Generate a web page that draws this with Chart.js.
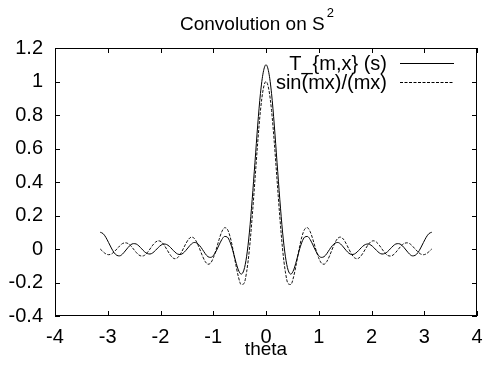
<!DOCTYPE html>
<html>
<head>
<meta charset="utf-8">
<script src="https://cdn.jsdelivr.net/npm/chart.js@4.4.1/dist/chart.umd.min.js"></script>
<style>
  html, body { margin: 0; padding: 0; background: #fff; }
  canvas { display: block; }
</style>
</head>
<body>
<canvas id="plot" width="485" height="366"></canvas>
<script>
// theta (radians), -pi .. pi
const theta = [
  -3.142, -3.089, -3.037, -2.985, -2.932, -2.880, -2.827, -2.775, -2.723, -2.670,
  -2.618, -2.566, -2.513, -2.461, -2.409, -2.356, -2.304, -2.251, -2.199, -2.147,
  -2.094, -2.042, -1.990, -1.937, -1.885, -1.833, -1.780, -1.728, -1.676, -1.623,
  -1.571, -1.518, -1.466, -1.414, -1.361, -1.309, -1.257, -1.204, -1.152, -1.100,
  -1.047, -0.995, -0.942, -0.890, -0.838, -0.785, -0.733, -0.681, -0.628, -0.576,
  -0.524, -0.471, -0.419, -0.367, -0.314, -0.262, -0.209, -0.157, -0.105, -0.052,
  0,
  0.052, 0.105, 0.157, 0.209, 0.262, 0.314, 0.367, 0.419, 0.471, 0.524,
  0.576, 0.628, 0.681, 0.733, 0.785, 0.838, 0.890, 0.942, 0.995, 1.047,
  1.100, 1.152, 1.204, 1.257, 1.309, 1.361, 1.414, 1.466, 1.518, 1.571,
  1.623, 1.676, 1.728, 1.780, 1.833, 1.885, 1.937, 1.990, 2.042, 2.094,
  2.147, 2.199, 2.251, 2.304, 2.356, 2.409, 2.461, 2.513, 2.566, 2.618,
  2.670, 2.723, 2.775, 2.827, 2.880, 2.932, 2.985, 3.037, 3.089, 3.142
];

// T_{m,x}(s)  (solid)
const tKernel = [
  0.100, 0.092, 0.070, 0.039, 0.006, -0.022, -0.038, -0.041, -0.031, -0.012,
  0.008, 0.025, 0.032, 0.030, 0.018, 0.001, -0.016, -0.027, -0.030, -0.023,
  -0.008, 0.009, 0.023, 0.030, 0.027, 0.016, -0.001, -0.018, -0.030, -0.033,
  -0.025, -0.008, 0.012, 0.030, 0.039, 0.035, 0.020, -0.003, -0.028, -0.046,
  -0.050, -0.038, -0.011, 0.024, 0.056, 0.075, 0.071, 0.041, -0.011, -0.072,
  -0.125, -0.150, -0.126, -0.043, 0.101, 0.295, 0.518, 0.740, 0.929, 1.055,
  1.100,
  1.055, 0.929, 0.740, 0.518, 0.295, 0.101, -0.043, -0.126, -0.150, -0.125,
  -0.072, -0.011, 0.041, 0.071, 0.075, 0.056, 0.024, -0.011, -0.038, -0.050,
  -0.046, -0.028, -0.003, 0.020, 0.035, 0.039, 0.030, 0.012, -0.008, -0.025,
  -0.033, -0.030, -0.018, -0.001, 0.016, 0.027, 0.030, 0.023, 0.009, -0.008,
  -0.023, -0.030, -0.027, -0.016, 0.001, 0.018, 0.030, 0.032, 0.025, 0.008,
  -0.012, -0.031, -0.041, -0.038, -0.022, 0.006, 0.039, 0.070, 0.092, 0.100
];

// sin(mx)/(mx)  (dashed)
const sinc = [
  0, -0.016, -0.029, -0.034, -0.030, -0.017, 0, 0.018, 0.032, 0.037,
  0.033, 0.020, 0, -0.020, -0.036, -0.042, -0.038, -0.022, 0, 0.023,
  0.041, 0.049, 0.044, 0.026, 0, -0.027, -0.049, -0.058, -0.052, -0.031,
  0, 0.033, 0.059, 0.071, 0.064, 0.038, 0, -0.042, -0.075, -0.091,
  -0.083, -0.050, 0, 0.056, 0.103, 0.127, 0.118, 0.074, 0, -0.087,
  -0.165, -0.212, -0.207, -0.136, 0, 0.191, 0.414, 0.637, 0.827, 0.955,
  1,
  0.955, 0.827, 0.637, 0.414, 0.191, 0, -0.136, -0.207, -0.212, -0.165,
  -0.087, 0, 0.074, 0.118, 0.127, 0.103, 0.056, 0, -0.050, -0.083,
  -0.091, -0.075, -0.042, 0, 0.038, 0.064, 0.071, 0.059, 0.033, 0,
  -0.031, -0.052, -0.058, -0.049, -0.027, 0, 0.026, 0.044, 0.049, 0.041,
  0.023, 0, -0.022, -0.038, -0.042, -0.036, -0.020, 0, 0.020, 0.033,
  0.037, 0.032, 0.018, 0, -0.017, -0.030, -0.034, -0.029, -0.016, 0
];

const seriesNames = ['T_{m,x} (s)', 'sin(mx)/(mx)'];
const xTicks = [-4, -3, -2, -1, 0, 1, 2, 3, 4];
const xTickLabels = ['-4', '-3', '-2', '-1', '0', '1', '2', '3', '4'];
const yTicks = [-0.4, -0.2, 0, 0.2, 0.4, 0.6, 0.8, 1, 1.2];
const yTickLabels = ['-0.4', '-0.2', '0', '0.2', '0.4', '0.6', '0.8', '1', '1.2'];

const FONT = 'Liberation Sans, Arial, Helvetica, sans-serif';
const DASH = [3, 1.5];

// frame + inward ticks (gnuplot style, mirrored on all sides)
const framePlugin = {
  id: 'frame',
  afterDatasetsDraw(chart) {
    const {ctx, chartArea: a, scales} = chart;
    ctx.save();
    ctx.strokeStyle = '#000';
    ctx.lineWidth = 1;
    ctx.strokeRect(a.left + 0.5, a.top + 0.5, a.right - a.left - 1, a.bottom - a.top - 1);
    ctx.beginPath();
    xTicks.forEach(v => {
      const px = Math.round(scales.x.getPixelForValue(v)) + 0.5;
      ctx.moveTo(px, a.bottom); ctx.lineTo(px, a.bottom - 5);
      ctx.moveTo(px, a.top); ctx.lineTo(px, a.top + 5);
    });
    yTicks.forEach(v => {
      const py = Math.round(scales.y.getPixelForValue(v)) + 0.5;
      ctx.moveTo(a.left, py); ctx.lineTo(a.left + 5, py);
      ctx.moveTo(a.right, py); ctx.lineTo(a.right - 5, py);
    });
    ctx.stroke();
    ctx.restore();
  }
};

// title with superscript, and key in the top right corner
const textPlugin = {
  id: 'texts',
  afterDraw(chart) {
    const ctx = chart.ctx;
    ctx.save();
    ctx.fillStyle = '#000';
    ctx.textBaseline = 'alphabetic';
    ctx.font = '19px ' + FONT;
    const main = 'Convolution on S';
    const w = ctx.measureText(main).width;
    ctx.textAlign = 'left';
    ctx.fillText(main, 180, 30);
    ctx.font = '13px ' + FONT;
    ctx.fillText('2', 180 + w + 2, 17);

    // key
    ctx.font = '20px ' + FONT;
    ctx.textAlign = 'right';
    ctx.textBaseline = 'middle';
    const rows = [63, 82];
    seriesNames.forEach((name, i) => {
      ctx.fillText(name, 387, rows[i] + 1);
      ctx.beginPath();
      ctx.setLineDash(i === 0 ? [] : DASH);
      ctx.strokeStyle = '#000';
      ctx.lineWidth = 1;
      ctx.moveTo(400, rows[i] + 0.5);
      ctx.lineTo(454, rows[i] + 0.5);
      ctx.stroke();
    });
    ctx.restore();
  }
};

new Chart(document.getElementById('plot'), {
  type: 'line',
  data: {
    datasets: [
      {
        label: seriesNames[0],
        data: theta.map((t, i) => ({x: t, y: tKernel[i]})),
        borderColor: '#000',
        borderWidth: 1,
        pointRadius: 0,
        cubicInterpolationMode: 'monotone',
        fill: false
      },
      {
        label: seriesNames[1],
        data: theta.map((t, i) => ({x: t, y: sinc[i]})),
        borderColor: '#111',
        borderWidth: 1,
        borderDash: DASH,
        pointRadius: 0,
        cubicInterpolationMode: 'monotone',
        fill: false
      }
    ]
  },
  options: {
    responsive: false,
    devicePixelRatio: 1,
    animation: false,
    events: [],
    layout: { padding: { top: 48, right: 8, left: 0, bottom: 0 } },
    plugins: {
      legend: { display: false },
      title: { display: false },
      tooltip: { enabled: false }
    },
    scales: {
      x: {
        type: 'linear',
        min: -4,
        max: 4,
        afterBuildTicks: s => { s.ticks = xTicks.map(v => ({value: v})); },
        afterFit: s => { s.height = 50; s.paddingLeft = 0; s.paddingRight = 0; },
        grid: { display: false, drawTicks: false },
        border: { display: false },
        ticks: {
          color: '#000',
          font: { family: FONT, size: 20 },
          padding: 9,
          maxRotation: 0,
          autoSkip: false,
          callback: (v, i) => xTickLabels[i]
        },
        title: {
          display: true,
          text: 'theta',
          color: '#000',
          font: { family: FONT, size: 19 },
          padding: { top: 0, bottom: 5 }
        }
      },
      y: {
        min: -0.4,
        max: 1.2,
        afterBuildTicks: s => { s.ticks = yTicks.map(v => ({value: v})); },
        afterFit: s => { s.width = 55; s.paddingTop = 0; s.paddingBottom = 0; },
        grid: { display: false, drawTicks: false },
        border: { display: false },
        ticks: {
          color: '#000',
          font: { family: FONT, size: 20 },
          padding: 12,
          autoSkip: false,
          callback: (v, i) => yTickLabels[i]
        }
      }
    }
  },
  plugins: [framePlugin, textPlugin]
});
</script>
</body>
</html>
